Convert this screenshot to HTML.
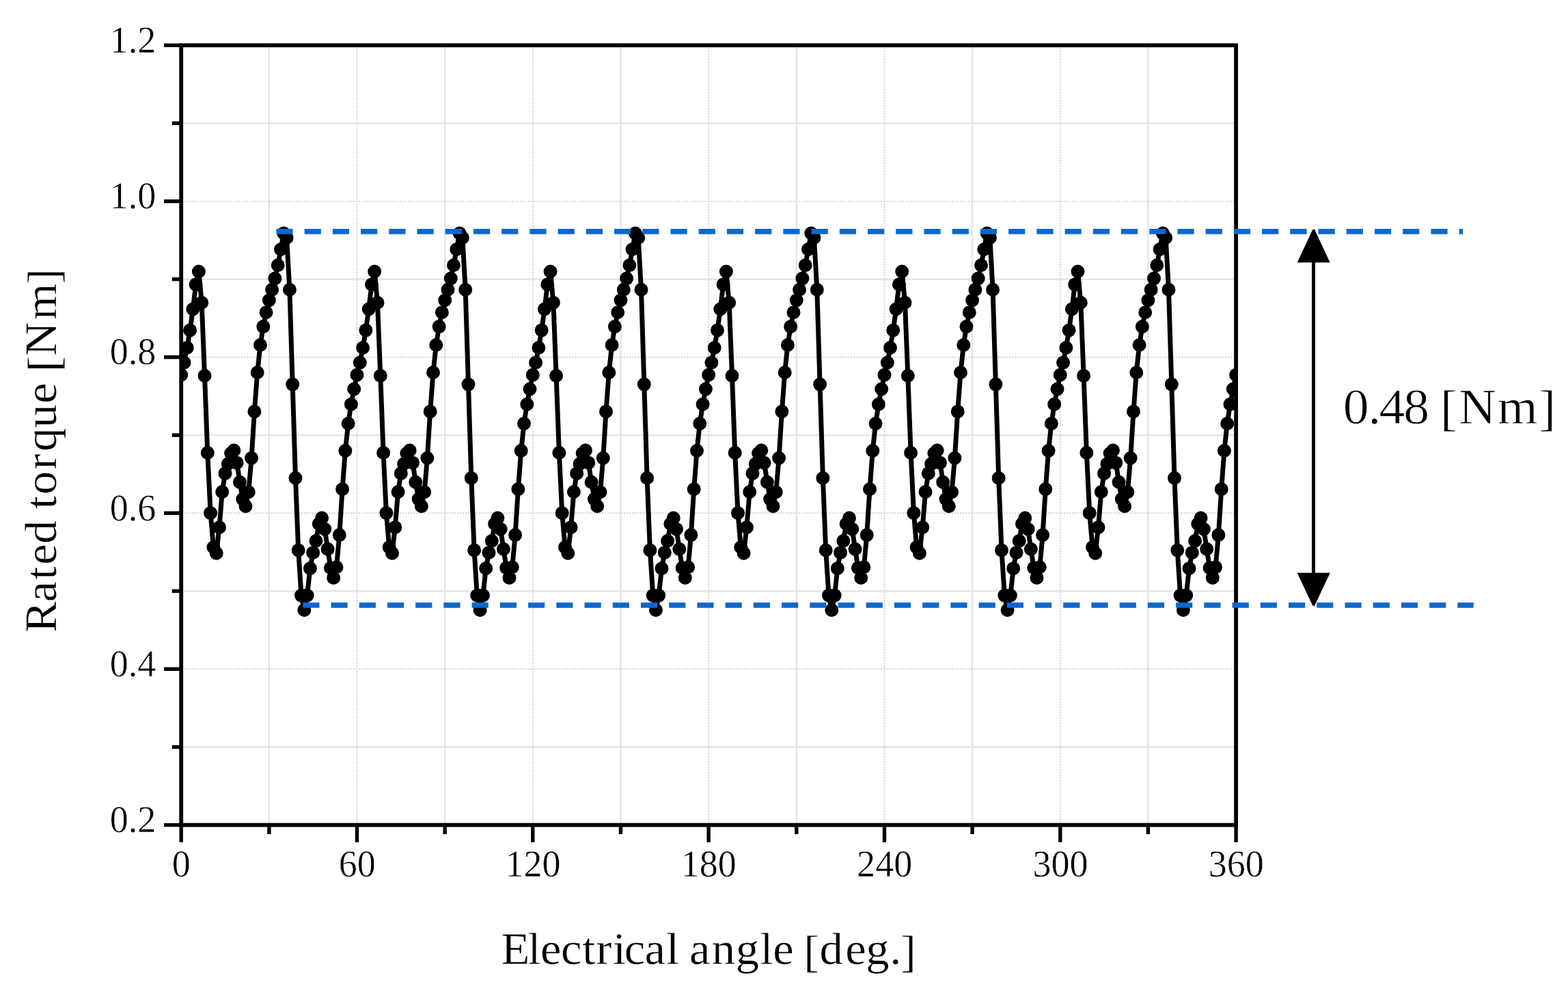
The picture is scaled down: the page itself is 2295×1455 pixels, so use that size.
<!DOCTYPE html>
<html lang="en">
<head>
<meta charset="utf-8">
<title>Rated torque vs electrical angle</title>
<style>
html,body{margin:0;padding:0;background:#fff;}
body{width:2295px;height:1455px;overflow:hidden;}
svg{display:block;}
text{font-family:"Liberation Serif","DejaVu Serif",serif;fill:#000;text-rendering:geometricPrecision;white-space:pre;}
.tick text{font-size:55.5px;stroke:#fff;stroke-width:0.5px;}
.ttl{stroke:#fff;stroke-width:0.4px;}
.note{stroke:#fff;stroke-width:0.8px;}
svg{filter:blur(0.55px);}
</style>
</head>
<body>
<svg width="2295" height="1455" viewBox="0 0 2295 1455">
<defs><clipPath id="plot"><rect x="265.2" y="66.3" width="1543.9" height="1141.3"/></clipPath></defs>
<rect width="2295" height="1455" fill="#fff"/>
<g stroke="#e4e4e4" stroke-width="2.4" fill="none"><line x1="393.9" y1="66.3" x2="393.9" y2="1207.6"/><line x1="651.2" y1="66.3" x2="651.2" y2="1207.6"/><line x1="908.5" y1="66.3" x2="908.5" y2="1207.6"/><line x1="1165.8" y1="66.3" x2="1165.8" y2="1207.6"/><line x1="1423.1" y1="66.3" x2="1423.1" y2="1207.6"/><line x1="1680.4" y1="66.3" x2="1680.4" y2="1207.6"/><line x1="265.2" y1="1093.5" x2="1809.1" y2="1093.5"/><line x1="265.2" y1="865.2" x2="1809.1" y2="865.2"/><line x1="265.2" y1="637.0" x2="1809.1" y2="637.0"/><line x1="265.2" y1="408.7" x2="1809.1" y2="408.7"/><line x1="265.2" y1="180.4" x2="1809.1" y2="180.4"/></g>
<g stroke="#cdcdcd" stroke-width="1.7" stroke-dasharray="2 2" fill="none"><line x1="522.5" y1="66.3" x2="522.5" y2="1207.6"/><line x1="779.8" y1="66.3" x2="779.8" y2="1207.6"/><line x1="1037.1" y1="66.3" x2="1037.1" y2="1207.6"/><line x1="1294.5" y1="66.3" x2="1294.5" y2="1207.6"/><line x1="1551.8" y1="66.3" x2="1551.8" y2="1207.6"/><line x1="265.2" y1="979.3" x2="1809.1" y2="979.3"/><line x1="265.2" y1="751.1" x2="1809.1" y2="751.1"/><line x1="265.2" y1="522.8" x2="1809.1" y2="522.8"/><line x1="265.2" y1="294.6" x2="1809.1" y2="294.6"/></g>
<g clip-path="url(#plot)" fill="none" stroke="#000" stroke-linejoin="round" stroke-linecap="round">
<path stroke-width="7.0" d="M265.2 548.8 L269.5 530.7 L273.8 509.0 L278.1 483.4 L282.4 452.5 L286.6 416.4 L290.9 397.5 L295.2 443.0 L299.5 550.0 L303.8 662.8 L308.1 750.9 L312.4 801.0 L316.7 809.7 L321.0 771.9 L325.2 720.0 L329.5 692.9 L333.8 679.0 L338.1 663.6 L342.4 659.3 L346.7 677.4 L351.0 705.7 L355.3 730.6 L359.5 741.0 L363.8 720.3 L368.1 670.5 L372.4 602.4 L376.7 545.2 L381.0 505.0 L385.3 478.1 L389.6 457.2 L393.9 439.5 L398.1 424.0 L402.4 407.6 L406.7 388.2 L411.0 365.0 L415.3 341.5 L419.6 348.0 L423.9 424.0 L428.2 562.6 L432.5 699.7 L436.7 805.4 L441.0 871.6 L445.3 893.0 L449.6 871.6 L453.9 832.0 L458.2 808.9 L462.5 791.7 L466.8 766.8 L471.1 758.2 L475.3 774.5 L479.6 803.7 L483.9 831.2 L488.2 845.8 L492.5 830.3 L496.8 783.1 L501.1 716.0 L505.4 659.7 L509.7 620.0 L513.9 591.8 L518.2 569.5 L522.5 548.8 L526.8 530.7 L531.1 509.0 L535.4 483.4 L539.7 452.5 L544.0 416.4 L548.2 397.5 L552.5 443.0 L556.8 550.0 L561.1 662.8 L565.4 750.9 L569.7 801.0 L574.0 809.7 L578.3 771.9 L582.6 720.0 L586.8 692.9 L591.1 679.0 L595.4 663.6 L599.7 659.3 L604.0 677.4 L608.3 705.7 L612.6 730.6 L616.9 741.0 L621.2 720.3 L625.4 670.5 L629.7 602.4 L634.0 545.2 L638.3 505.0 L642.6 478.1 L646.9 457.2 L651.2 439.5 L655.5 424.0 L659.8 407.6 L664.0 388.2 L668.3 365.0 L672.6 341.5 L676.9 348.0 L681.2 424.0 L685.5 562.6 L689.8 699.7 L694.1 805.4 L698.3 871.6 L702.6 893.0 L706.9 871.6 L711.2 832.0 L715.5 808.9 L719.8 791.7 L724.1 766.8 L728.4 758.2 L732.7 774.5 L736.9 803.7 L741.2 831.2 L745.5 845.8 L749.8 830.3 L754.1 783.1 L758.4 716.0 L762.7 659.7 L767.0 620.0 L771.3 591.8 L775.5 569.5 L779.8 548.8 L784.1 530.7 L788.4 509.0 L792.7 483.4 L797.0 452.5 L801.3 416.4 L805.6 397.5 L809.9 443.0 L814.1 550.0 L818.4 662.8 L822.7 750.9 L827.0 801.0 L831.3 809.7 L835.6 771.9 L839.9 720.0 L844.2 692.9 L848.5 679.0 L852.7 663.6 L857.0 659.3 L861.3 677.4 L865.6 705.7 L869.9 730.6 L874.2 741.0 L878.5 720.3 L882.8 670.5 L887.0 602.4 L891.3 545.2 L895.6 505.0 L899.9 478.1 L904.2 457.2 L908.5 439.5 L912.8 424.0 L917.1 407.6 L921.4 388.2 L925.6 365.0 L929.9 341.5 L934.2 348.0 L938.5 424.0 L942.8 562.6 L947.1 699.7 L951.4 805.4 L955.7 871.6 L960.0 893.0 L964.2 871.6 L968.5 832.0 L972.8 808.9 L977.1 791.7 L981.4 766.8 L985.7 758.2 L990.0 774.5 L994.3 803.7 L998.6 831.2 L1002.8 845.8 L1007.1 830.3 L1011.4 783.1 L1015.7 716.0 L1020.0 659.7 L1024.3 620.0 L1028.6 591.8 L1032.9 569.5 L1037.1 548.8 L1041.4 530.7 L1045.7 509.0 L1050.0 483.4 L1054.3 452.5 L1058.6 416.4 L1062.9 397.5 L1067.2 443.0 L1071.5 550.0 L1075.7 662.8 L1080.0 750.9 L1084.3 801.0 L1088.6 809.7 L1092.9 771.9 L1097.2 720.0 L1101.5 692.9 L1105.8 679.0 L1110.1 663.6 L1114.3 659.3 L1118.6 677.4 L1122.9 705.7 L1127.2 730.6 L1131.5 741.0 L1135.8 720.3 L1140.1 670.5 L1144.4 602.4 L1148.7 545.2 L1152.9 505.0 L1157.2 478.1 L1161.5 457.2 L1165.8 439.5 L1170.1 424.0 L1174.4 407.6 L1178.7 388.2 L1183.0 365.0 L1187.3 341.5 L1191.5 348.0 L1195.8 424.0 L1200.1 562.6 L1204.4 699.7 L1208.7 805.4 L1213.0 871.6 L1217.3 893.0 L1221.6 871.6 L1225.8 832.0 L1230.1 808.9 L1234.4 791.7 L1238.7 766.8 L1243.0 758.2 L1247.3 774.5 L1251.6 803.7 L1255.9 831.2 L1260.2 845.8 L1264.4 830.3 L1268.7 783.1 L1273.0 716.0 L1277.3 659.7 L1281.6 620.0 L1285.9 591.8 L1290.2 569.5 L1294.5 548.8 L1298.8 530.7 L1303.0 509.0 L1307.3 483.4 L1311.6 452.5 L1315.9 416.4 L1320.2 397.5 L1324.5 443.0 L1328.8 550.0 L1333.1 662.8 L1337.4 750.9 L1341.6 801.0 L1345.9 809.7 L1350.2 771.9 L1354.5 720.0 L1358.8 692.9 L1363.1 679.0 L1367.4 663.6 L1371.7 659.3 L1376.0 677.4 L1380.2 705.7 L1384.5 730.6 L1388.8 741.0 L1393.1 720.3 L1397.4 670.5 L1401.7 602.4 L1406.0 545.2 L1410.3 505.0 L1414.5 478.1 L1418.8 457.2 L1423.1 439.5 L1427.4 424.0 L1431.7 407.6 L1436.0 388.2 L1440.3 365.0 L1444.6 341.5 L1448.9 348.0 L1453.1 424.0 L1457.4 562.6 L1461.7 699.7 L1466.0 805.4 L1470.3 871.6 L1474.6 893.0 L1478.9 871.6 L1483.2 832.0 L1487.5 808.9 L1491.7 791.7 L1496.0 766.8 L1500.3 758.2 L1504.6 774.5 L1508.9 803.7 L1513.2 831.2 L1517.5 845.8 L1521.8 830.3 L1526.1 783.1 L1530.3 716.0 L1534.6 659.7 L1538.9 620.0 L1543.2 591.8 L1547.5 569.5 L1551.8 548.8 L1556.1 530.7 L1560.4 509.0 L1564.6 483.4 L1568.9 452.5 L1573.2 416.4 L1577.5 397.5 L1581.8 443.0 L1586.1 550.0 L1590.4 662.8 L1594.7 750.9 L1599.0 801.0 L1603.2 809.7 L1607.5 771.9 L1611.8 720.0 L1616.1 692.9 L1620.4 679.0 L1624.7 663.6 L1629.0 659.3 L1633.3 677.4 L1637.6 705.7 L1641.8 730.6 L1646.1 741.0 L1650.4 720.3 L1654.7 670.5 L1659.0 602.4 L1663.3 545.2 L1667.6 505.0 L1671.9 478.1 L1676.2 457.2 L1680.4 439.5 L1684.7 424.0 L1689.0 407.6 L1693.3 388.2 L1697.6 365.0 L1701.9 341.5 L1706.2 348.0 L1710.5 424.0 L1714.8 562.6 L1719.0 699.7 L1723.3 805.4 L1727.6 871.6 L1731.9 893.0 L1736.2 871.6 L1740.5 832.0 L1744.8 808.9 L1749.1 791.7 L1753.3 766.8 L1757.6 758.2 L1761.9 774.5 L1766.2 803.7 L1770.5 831.2 L1774.8 845.8 L1779.1 830.3 L1783.4 783.1 L1787.7 716.0 L1791.9 659.7 L1796.2 620.0 L1800.5 591.8 L1804.8 569.5 L1809.1 548.8"/>
<path stroke-width="20.0" d="M265.2 548.8h0M269.5 530.7h0M273.8 509.0h0M278.1 483.4h0M282.4 452.5h0M286.6 416.4h0M290.9 397.5h0M295.2 443.0h0M299.5 550.0h0M303.8 662.8h0M308.1 750.9h0M312.4 801.0h0M316.7 809.7h0M321.0 771.9h0M325.2 720.0h0M329.5 692.9h0M333.8 679.0h0M338.1 663.6h0M342.4 659.3h0M346.7 677.4h0M351.0 705.7h0M355.3 730.6h0M359.5 741.0h0M363.8 720.3h0M368.1 670.5h0M372.4 602.4h0M376.7 545.2h0M381.0 505.0h0M385.3 478.1h0M389.6 457.2h0M393.9 439.5h0M398.1 424.0h0M402.4 407.6h0M406.7 388.2h0M411.0 365.0h0M415.3 341.5h0M419.6 348.0h0M423.9 424.0h0M428.2 562.6h0M432.5 699.7h0M436.7 805.4h0M441.0 871.6h0M445.3 893.0h0M449.6 871.6h0M453.9 832.0h0M458.2 808.9h0M462.5 791.7h0M466.8 766.8h0M471.1 758.2h0M475.3 774.5h0M479.6 803.7h0M483.9 831.2h0M488.2 845.8h0M492.5 830.3h0M496.8 783.1h0M501.1 716.0h0M505.4 659.7h0M509.7 620.0h0M513.9 591.8h0M518.2 569.5h0M522.5 548.8h0M526.8 530.7h0M531.1 509.0h0M535.4 483.4h0M539.7 452.5h0M544.0 416.4h0M548.2 397.5h0M552.5 443.0h0M556.8 550.0h0M561.1 662.8h0M565.4 750.9h0M569.7 801.0h0M574.0 809.7h0M578.3 771.9h0M582.6 720.0h0M586.8 692.9h0M591.1 679.0h0M595.4 663.6h0M599.7 659.3h0M604.0 677.4h0M608.3 705.7h0M612.6 730.6h0M616.9 741.0h0M621.2 720.3h0M625.4 670.5h0M629.7 602.4h0M634.0 545.2h0M638.3 505.0h0M642.6 478.1h0M646.9 457.2h0M651.2 439.5h0M655.5 424.0h0M659.8 407.6h0M664.0 388.2h0M668.3 365.0h0M672.6 341.5h0M676.9 348.0h0M681.2 424.0h0M685.5 562.6h0M689.8 699.7h0M694.1 805.4h0M698.3 871.6h0M702.6 893.0h0M706.9 871.6h0M711.2 832.0h0M715.5 808.9h0M719.8 791.7h0M724.1 766.8h0M728.4 758.2h0M732.7 774.5h0M736.9 803.7h0M741.2 831.2h0M745.5 845.8h0M749.8 830.3h0M754.1 783.1h0M758.4 716.0h0M762.7 659.7h0M767.0 620.0h0M771.3 591.8h0M775.5 569.5h0M779.8 548.8h0M784.1 530.7h0M788.4 509.0h0M792.7 483.4h0M797.0 452.5h0M801.3 416.4h0M805.6 397.5h0M809.9 443.0h0M814.1 550.0h0M818.4 662.8h0M822.7 750.9h0M827.0 801.0h0M831.3 809.7h0M835.6 771.9h0M839.9 720.0h0M844.2 692.9h0M848.5 679.0h0M852.7 663.6h0M857.0 659.3h0M861.3 677.4h0M865.6 705.7h0M869.9 730.6h0M874.2 741.0h0M878.5 720.3h0M882.8 670.5h0M887.0 602.4h0M891.3 545.2h0M895.6 505.0h0M899.9 478.1h0M904.2 457.2h0M908.5 439.5h0M912.8 424.0h0M917.1 407.6h0M921.4 388.2h0M925.6 365.0h0M929.9 341.5h0M934.2 348.0h0M938.5 424.0h0M942.8 562.6h0M947.1 699.7h0M951.4 805.4h0M955.7 871.6h0M960.0 893.0h0M964.2 871.6h0M968.5 832.0h0M972.8 808.9h0M977.1 791.7h0M981.4 766.8h0M985.7 758.2h0M990.0 774.5h0M994.3 803.7h0M998.6 831.2h0M1002.8 845.8h0M1007.1 830.3h0M1011.4 783.1h0M1015.7 716.0h0M1020.0 659.7h0M1024.3 620.0h0M1028.6 591.8h0M1032.9 569.5h0M1037.1 548.8h0M1041.4 530.7h0M1045.7 509.0h0M1050.0 483.4h0M1054.3 452.5h0M1058.6 416.4h0M1062.9 397.5h0M1067.2 443.0h0M1071.5 550.0h0M1075.7 662.8h0M1080.0 750.9h0M1084.3 801.0h0M1088.6 809.7h0M1092.9 771.9h0M1097.2 720.0h0M1101.5 692.9h0M1105.8 679.0h0M1110.1 663.6h0M1114.3 659.3h0M1118.6 677.4h0M1122.9 705.7h0M1127.2 730.6h0M1131.5 741.0h0M1135.8 720.3h0M1140.1 670.5h0M1144.4 602.4h0M1148.7 545.2h0M1152.9 505.0h0M1157.2 478.1h0M1161.5 457.2h0M1165.8 439.5h0M1170.1 424.0h0M1174.4 407.6h0M1178.7 388.2h0M1183.0 365.0h0M1187.3 341.5h0M1191.5 348.0h0M1195.8 424.0h0M1200.1 562.6h0M1204.4 699.7h0M1208.7 805.4h0M1213.0 871.6h0M1217.3 893.0h0M1221.6 871.6h0M1225.8 832.0h0M1230.1 808.9h0M1234.4 791.7h0M1238.7 766.8h0M1243.0 758.2h0M1247.3 774.5h0M1251.6 803.7h0M1255.9 831.2h0M1260.2 845.8h0M1264.4 830.3h0M1268.7 783.1h0M1273.0 716.0h0M1277.3 659.7h0M1281.6 620.0h0M1285.9 591.8h0M1290.2 569.5h0M1294.5 548.8h0M1298.8 530.7h0M1303.0 509.0h0M1307.3 483.4h0M1311.6 452.5h0M1315.9 416.4h0M1320.2 397.5h0M1324.5 443.0h0M1328.8 550.0h0M1333.1 662.8h0M1337.4 750.9h0M1341.6 801.0h0M1345.9 809.7h0M1350.2 771.9h0M1354.5 720.0h0M1358.8 692.9h0M1363.1 679.0h0M1367.4 663.6h0M1371.7 659.3h0M1376.0 677.4h0M1380.2 705.7h0M1384.5 730.6h0M1388.8 741.0h0M1393.1 720.3h0M1397.4 670.5h0M1401.7 602.4h0M1406.0 545.2h0M1410.3 505.0h0M1414.5 478.1h0M1418.8 457.2h0M1423.1 439.5h0M1427.4 424.0h0M1431.7 407.6h0M1436.0 388.2h0M1440.3 365.0h0M1444.6 341.5h0M1448.9 348.0h0M1453.1 424.0h0M1457.4 562.6h0M1461.7 699.7h0M1466.0 805.4h0M1470.3 871.6h0M1474.6 893.0h0M1478.9 871.6h0M1483.2 832.0h0M1487.5 808.9h0M1491.7 791.7h0M1496.0 766.8h0M1500.3 758.2h0M1504.6 774.5h0M1508.9 803.7h0M1513.2 831.2h0M1517.5 845.8h0M1521.8 830.3h0M1526.1 783.1h0M1530.3 716.0h0M1534.6 659.7h0M1538.9 620.0h0M1543.2 591.8h0M1547.5 569.5h0M1551.8 548.8h0M1556.1 530.7h0M1560.4 509.0h0M1564.6 483.4h0M1568.9 452.5h0M1573.2 416.4h0M1577.5 397.5h0M1581.8 443.0h0M1586.1 550.0h0M1590.4 662.8h0M1594.7 750.9h0M1599.0 801.0h0M1603.2 809.7h0M1607.5 771.9h0M1611.8 720.0h0M1616.1 692.9h0M1620.4 679.0h0M1624.7 663.6h0M1629.0 659.3h0M1633.3 677.4h0M1637.6 705.7h0M1641.8 730.6h0M1646.1 741.0h0M1650.4 720.3h0M1654.7 670.5h0M1659.0 602.4h0M1663.3 545.2h0M1667.6 505.0h0M1671.9 478.1h0M1676.2 457.2h0M1680.4 439.5h0M1684.7 424.0h0M1689.0 407.6h0M1693.3 388.2h0M1697.6 365.0h0M1701.9 341.5h0M1706.2 348.0h0M1710.5 424.0h0M1714.8 562.6h0M1719.0 699.7h0M1723.3 805.4h0M1727.6 871.6h0M1731.9 893.0h0M1736.2 871.6h0M1740.5 832.0h0M1744.8 808.9h0M1749.1 791.7h0M1753.3 766.8h0M1757.6 758.2h0M1761.9 774.5h0M1766.2 803.7h0M1770.5 831.2h0M1774.8 845.8h0M1779.1 830.3h0M1783.4 783.1h0M1787.7 716.0h0M1791.9 659.7h0M1796.2 620.0h0M1800.5 591.8h0M1804.8 569.5h0M1809.1 548.8h0"/>
</g>
<rect x="265.2" y="66.3" width="1543.9" height="1141.3" fill="none" stroke="#000" stroke-width="5.8"/>
<g stroke="#000" stroke-width="5.4"><line x1="265.2" y1="1207.6" x2="265.2" y2="1232.8"/><line x1="393.9" y1="1207.6" x2="393.9" y2="1221.0"/><line x1="522.5" y1="1207.6" x2="522.5" y2="1232.8"/><line x1="651.2" y1="1207.6" x2="651.2" y2="1221.0"/><line x1="779.8" y1="1207.6" x2="779.8" y2="1232.8"/><line x1="908.5" y1="1207.6" x2="908.5" y2="1221.0"/><line x1="1037.1" y1="1207.6" x2="1037.1" y2="1232.8"/><line x1="1165.8" y1="1207.6" x2="1165.8" y2="1221.0"/><line x1="1294.5" y1="1207.6" x2="1294.5" y2="1232.8"/><line x1="1423.1" y1="1207.6" x2="1423.1" y2="1221.0"/><line x1="1551.8" y1="1207.6" x2="1551.8" y2="1232.8"/><line x1="1680.4" y1="1207.6" x2="1680.4" y2="1221.0"/><line x1="1809.1" y1="1207.6" x2="1809.1" y2="1232.8"/><line x1="265.2" y1="1207.6" x2="240.0" y2="1207.6"/><line x1="265.2" y1="1093.5" x2="251.8" y2="1093.5"/><line x1="265.2" y1="979.3" x2="240.0" y2="979.3"/><line x1="265.2" y1="865.2" x2="251.8" y2="865.2"/><line x1="265.2" y1="751.1" x2="240.0" y2="751.1"/><line x1="265.2" y1="637.0" x2="251.8" y2="637.0"/><line x1="265.2" y1="522.8" x2="240.0" y2="522.8"/><line x1="265.2" y1="408.7" x2="251.8" y2="408.7"/><line x1="265.2" y1="294.6" x2="240.0" y2="294.6"/><line x1="265.2" y1="180.4" x2="251.8" y2="180.4"/><line x1="265.2" y1="66.3" x2="240.0" y2="66.3"/></g>
<g class="tick"><text transform="translate(265.4 1283.1) scale(0.975 1)" text-anchor="middle">0</text><text transform="translate(522.7 1283.1) scale(0.975 1)" text-anchor="middle">60</text><text transform="translate(780.0 1283.1) scale(0.975 1)" text-anchor="middle">120</text><text transform="translate(1037.3 1283.1) scale(0.975 1)" text-anchor="middle">180</text><text transform="translate(1294.7 1283.1) scale(0.975 1)" text-anchor="middle">240</text><text transform="translate(1552.0 1283.1) scale(0.975 1)" text-anchor="middle">300</text><text transform="translate(1809.3 1283.1) scale(0.975 1)" text-anchor="middle">360</text><text transform="translate(228.4 1218.0) scale(0.975 1)" text-anchor="end">0.2</text><text transform="translate(228.4 989.7) scale(0.975 1)" text-anchor="end">0.4</text><text transform="translate(228.4 761.5) scale(0.975 1)" text-anchor="end">0.6</text><text transform="translate(228.4 533.2) scale(0.975 1)" text-anchor="end">0.8</text><text transform="translate(228.4 305.0) scale(0.975 1)" text-anchor="end">1.0</text><text transform="translate(228.4 76.7) scale(0.975 1)" text-anchor="end">1.2</text></g>
<text class="ttl" font-size="66" transform="translate(0 1411) scale(1.04 1)" x="705.25 742.80 760.64 789.39 819.45 838.83 862.40 878.52 907.24 937.56 955.90 970.22 1001.80 1035.45 1069.73 1087.76 1117.05 1130.98 1153.43 1189.63 1218.62 1252.28 1267.24" y="0 0 0 0 0 0 0 0 0 0 0 0 0 0 0 0 0 4.0 0 0 0 0 4.0">Electrical angle [deg.]</text>
<text class="ttl" font-size="66" transform="translate(82 923) rotate(-90) scale(1.04 1)" x="-2.97 40.17 71.62 92.47 122.09 155.09 171.28 191.38 226.67 252.13 285.31 319.49 348.78 364.20 386.46 437.33 487.48" y="0 0 0 0 0 0 0 0 0 0 0 0 0 3.5 0 0 3.5">Rated torque [Nm]</text>
<g stroke="#0b68cc" stroke-width="7.8" stroke-dasharray="24.2 17.02" fill="none">
<line x1="404.4" y1="338.8" x2="2141" y2="338.8"/>
<line x1="443.3" y1="885.8" x2="2156.7" y2="885.8"/>
</g>
<line x1="1922.5" y1="380" x2="1922.5" y2="845" stroke="#000" stroke-width="4.9"/>
<path d="M1921.4 335.8 H1924 L1946.7 384.3 H1898.7 Z M1921.4 886.8 H1924 L1946.8 838.4 H1898.6 Z" fill="#000"/>
<text class="note" font-size="73.5" transform="translate(0 619.7) scale(1.03 1)" x="1908.42 1943.82 1959.69 1994.54 2031.29 2046.65 2072.89 2127.94 2186.35" y="0 0 0 0 0 2.6 0 0 2.6">0.48 [Nm]</text>
</svg>
</body>
</html>
